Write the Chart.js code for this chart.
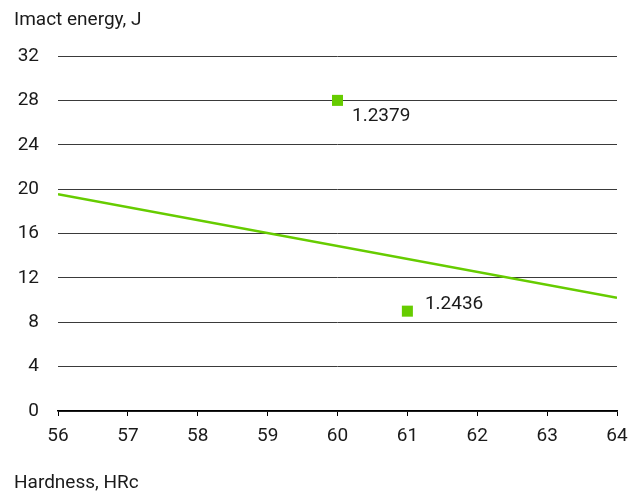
<!DOCTYPE html>
<html>
<head>
<meta charset="utf-8">
<script src="https://cdn.jsdelivr.net/npm/chart.js@4"></script>
<style>
  html, body { margin: 0; padding: 0; background: #fff; }
  #wrap { width: 642px; height: 496px; }
</style>
</head>
<body>
<div id="wrap"><canvas id="chart" width="642" height="496"></canvas></div>
<script>
const hardness = [60, 61]
const impact = [28, 9]
const pointLabels = ['1.2379', '1.2436']
const trendX = [56, 64]
const trendY = [19.55, 10.2]
const yTicks = [0, 4, 8, 12, 16, 20, 24, 28, 32]
const xTicks = [56, 57, 58, 59, 60, 61, 62, 63, 64]

const GREEN = '#66cc00'
const FONT = 'Roboto, "Liberation Sans", sans-serif'
const TEXT = '#1a1a1a'

// label offsets from point centre (text left edge, baseline)
const labelOffsets = [[14.5, 21], [17.5, -2]]

const pointLabelPlugin = {
  id: 'pointLabels',
  afterDatasetsDraw(chart) {
    const ctx = chart.ctx
    const meta = chart.getDatasetMeta(1)
    ctx.save()
    ctx.font = '19px ' + FONT
    ctx.fillStyle = TEXT
    ctx.textAlign = 'left'
    ctx.textBaseline = 'alphabetic'
    meta.data.forEach((el, i) => {
      const [dx, dy] = labelOffsets[i]
      ctx.fillText(pointLabels[i], el.x + dx, el.y + dy)
    })
    ctx.restore()
  },
}

const axisTitlePlugin = {
  id: 'axisTitles',
  afterDraw(chart) {
    const ctx = chart.ctx
    ctx.save()
    ctx.font = '19px ' + FONT
    ctx.fillStyle = TEXT
    ctx.textAlign = 'left'
    ctx.textBaseline = 'alphabetic'
    ctx.fillText('Imact energy, J', 14, 25)
    ctx.fillText('Hardness, HRc', 14, 488)
    ctx.restore()
  },
}

new Chart(document.getElementById('chart'), {
  type: 'scatter',
  data: {
    datasets: [
      {
        type: 'line',
        data: trendX.map((x, i) => ({ x, y: trendY[i] })),
        borderColor: GREEN,
        borderWidth: 2.5,
        pointRadius: 0,
        fill: false,
        tension: 0,
      },
      {
        data: hardness.map((x, i) => ({ x, y: impact[i] })),
        pointStyle: 'rect',
        pointRadius: 7.8,
        backgroundColor: GREEN,
        borderColor: GREEN,
        borderWidth: 0,
      },
    ],
  },
  options: {
    responsive: false,
    animation: false,
    events: [],
    layout: { padding: { top: 56, right: 25, bottom: 0, left: 0 } },
    plugins: {
      legend: { display: false },
      tooltip: { enabled: false },
    },
    scales: {
      x: {
        type: 'linear',
        min: 56,
        max: 64,
        afterBuildTicks: s => { s.ticks = xTicks.map(v => ({ value: v })) },
        afterFit: s => { s.height = 85 },
        grid: {
          drawOnChartArea: false,
          drawTicks: true,
          tickLength: 5,
          color: '#000',
          lineWidth: 1,
        },
        border: { display: true, color: '#000', width: 1.4 },
        ticks: {
          padding: 9,
          color: TEXT,
          font: { family: FONT, size: 19 },
        },
      },
      y: {
        min: 0,
        max: 32,
        afterBuildTicks: s => { s.ticks = yTicks.map(v => ({ value: v })) },
        afterFit: s => { s.width = 58 },
        grid: {
          drawTicks: false,
          color: '#3a3a3a',
          lineWidth: 1,
        },
        border: { display: false },
        ticks: {
          padding: 19,
          color: TEXT,
          font: { family: FONT, size: 19 },
        },
      },
    },
  },
  plugins: [pointLabelPlugin, axisTitlePlugin],
})
</script>
</body>
</html>
